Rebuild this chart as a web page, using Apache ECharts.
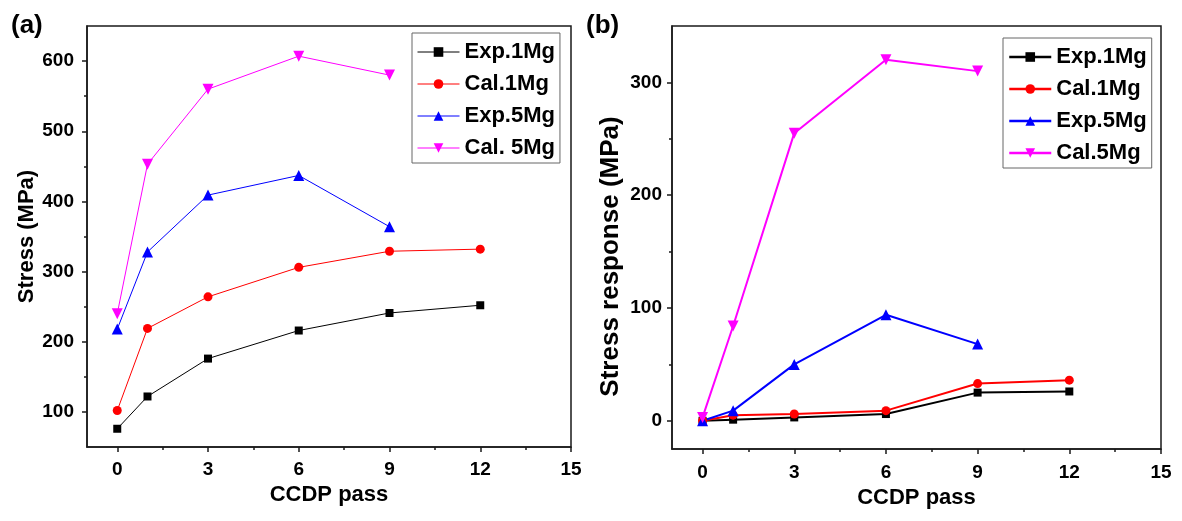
<!DOCTYPE html>
<html>
<head>
<meta charset="utf-8">
<script src="https://cdn.jsdelivr.net/npm/echarts@6/dist/echarts.min.js"></script>
<style>
  html, body { margin: 0; padding: 0; background: #fff; }
  #chart { width: 1182px; height: 521px; }
</style>
</head>
<body>
<div id="chart"></div>
<script>
// CCDP pass numbers (x values shared by both panels)
const passes = [0, 1, 3, 6, 9, 12];
const seriesNamesA = ['Exp.1Mg', 'Cal.1Mg', 'Exp.5Mg', 'Cal. 5Mg'];
const seriesNamesB = ['Exp.1Mg', 'Cal.1Mg', 'Exp.5Mg', 'Cal.5Mg'];

// Panel (a): stress (MPa)
const exp1MgStress = [76, 122, 176, 216, 241, 252];
const cal1MgStress = [102, 219, 264, 306, 329, 332];
const exp5MgStress = [218, 328, 409, 437, 364];
const cal5MgStress = [240, 453, 560, 607, 580];

// Panel (b): stress response (MPa)
const exp1MgResponse = [0, 1, 3, 6, 25, 26];
const cal1MgResponse = [0, 5, 6, 9, 33, 36];
const exp5MgResponse = [0, 9, 50, 94, 68];
const cal5MgResponse = [3, 84, 255, 320, 310];

// Tick labels
const xTicks = [0, 3, 6, 9, 12, 15];
const xMinorTicks = [1.5, 4.5, 7.5, 10.5, 13.5];
const yTicksA = [100, 200, 300, 400, 500, 600];
const yMinorTicksA = [150, 250, 350, 450, 550];
const yTicksB = [0, 100, 200, 300];
const yMinorTicksB = [50, 150, 250];

const FONT = '"Liberation Sans", Arial, sans-serif';
const AXIS_COLOR = '#1a1a1a';
const colors = ['#000000', '#ff0000', '#0000ff', '#ff00ff'];
const symbols = ['rect', 'circle', 'triangle', 'triangle'];
const rotations = [0, 0, 0, 180];

function pairs(values) {
  return values.map((v, i) => [passes[i], v]);
}

function mainX(gridIndex, labelMargin) {
  return {
    type: 'value', gridIndex, min: -1, max: 15, position: 'bottom',
    name: 'CCDP pass', nameLocation: 'middle', nameGap: 36,
    nameTextStyle: { fontFamily: FONT, fontWeight: 'bold', fontSize: 22, color: '#000' },
    axisLine: { show: true, onZero: false, lineStyle: { color: AXIS_COLOR, width: 1.5 } },
    axisTick: { show: true, inside: false, length: 5, customValues: xTicks, lineStyle: { color: AXIS_COLOR, width: 1.5 } },
    axisLabel: { show: true, customValues: xTicks, margin: labelMargin, fontFamily: FONT, fontWeight: 'bold', fontSize: 19, color: '#000' },
    splitLine: { show: false }
  };
}
function minorX(gridIndex) {
  return {
    type: 'value', gridIndex, min: -1, max: 15, position: 'bottom',
    axisLine: { show: false, onZero: false },
    axisTick: { show: true, inside: false, length: 3, customValues: xMinorTicks, lineStyle: { color: AXIS_COLOR, width: 1.5 } },
    axisLabel: { show: false },
    splitLine: { show: false }
  };
}
function mainY(gridIndex, min, max, ticks, name, nameGap, nameSize, labelMargin, namePadding) {
  return {
    type: 'value', gridIndex, min, max, position: 'left',
    name, nameLocation: 'middle', nameGap,
    nameTextStyle: { fontFamily: FONT, fontWeight: 'bold', fontSize: nameSize, color: '#000', padding: namePadding },
    axisLine: { show: true, onZero: false, lineStyle: { color: AXIS_COLOR, width: 1.5 } },
    axisTick: { show: true, inside: false, length: 5, customValues: ticks, lineStyle: { color: AXIS_COLOR, width: 1.5 } },
    axisLabel: { show: true, customValues: ticks, margin: labelMargin, fontFamily: FONT, fontWeight: 'bold', fontSize: 19, color: '#000' },
    splitLine: { show: false }
  };
}
function minorY(gridIndex, min, max, ticks) {
  return {
    type: 'value', gridIndex, min, max, position: 'left',
    axisLine: { show: false, onZero: false },
    axisTick: { show: true, inside: false, length: 3, customValues: ticks, lineStyle: { color: AXIS_COLOR, width: 1.5 } },
    axisLabel: { show: false },
    splitLine: { show: false }
  };
}

function lineSeries(name, values, k, axisIndex, lineWidth) {
  const sizes = [8, 9, 11, 11];
  return {
    type: 'line', name, data: pairs(values),
    xAxisIndex: axisIndex, yAxisIndex: axisIndex,
    symbol: symbols[k], symbolRotate: rotations[k],
    symbolSize: sizes[k],
    showAllSymbol: true,
    lineStyle: { color: colors[k], width: lineWidth },
    itemStyle: { color: colors[k] },
    emphasis: { disabled: true },
    animation: false
  };
}

function legendAt(left, top, names, lineWidth) {
  return {
    data: names,
    orient: 'vertical', left, top,
    padding: [8, 5, 4, 5], itemGap: 10,
    itemWidth: 42, itemHeight: 12,
    borderColor: '#666', borderWidth: 1,
    symbolRotate: 'inherit',
    selectedMode: false,
    lineStyle: { width: lineWidth },
    textStyle: { fontFamily: FONT, fontWeight: 'bold', fontSize: 22, lineHeight: 22, color: '#000' }
  };
}

const chart = echarts.init(document.getElementById('chart'), null, { renderer: 'canvas' });

const seriesA = [exp1MgStress, cal1MgStress, exp5MgStress, cal5MgStress]
  .map((vals, k) => lineSeries(seriesNamesA[k], vals, k, 0, 1));
// panel (b) series sit on the main axes of the second grid (axis index 2)
const seriesB = [exp1MgResponse, cal1MgResponse, exp5MgResponse, cal5MgResponse]
  .map((vals, k) => lineSeries(seriesNamesB[k], vals, k, 2, 2));

chart.setOption({
  backgroundColor: '#ffffff',
  animation: false,
  title: [
    { text: '(a)', left: 11, top: 13, textStyle: { fontFamily: FONT, fontWeight: 'bold', fontSize: 26, color: '#000' }, padding: 0 },
    { text: '(b)', left: 586, top: 13, textStyle: { fontFamily: FONT, fontWeight: 'bold', fontSize: 26, color: '#000' }, padding: 0 }
  ],
  grid: [
    { left: 87, top: 26, width: 484, height: 421, show: true, borderColor: AXIS_COLOR, borderWidth: 1.5, backgroundColor: 'transparent', containLabel: false },
    { left: 672, top: 26, width: 489, height: 423, show: true, borderColor: AXIS_COLOR, borderWidth: 1.5, backgroundColor: 'transparent', containLabel: false }
  ],
  xAxis: [mainX(0, 13), minorX(0), mainX(1, 14), minorX(1)],
  yAxis: [
    mainY(0, 50, 650, yTicksA, 'Stress (MPa)', 49, 22, 13, [0, 0, 0, 0]),
    minorY(0, 50, 650, yMinorTicksA),
    mainY(1, -25, 350, yTicksB, 'Stress response (MPa)', 48, 26, 10, [0, 38, 0, 0]),
    minorY(1, -25, 350, yMinorTicksB)
  ],
  legend: [
    legendAt(412, 33, seriesNamesA, 1),
    legendAt(1003, 38, seriesNamesB, 2.5)
  ],
  series: seriesA.concat(seriesB)
});
</script>
</body>
</html>
